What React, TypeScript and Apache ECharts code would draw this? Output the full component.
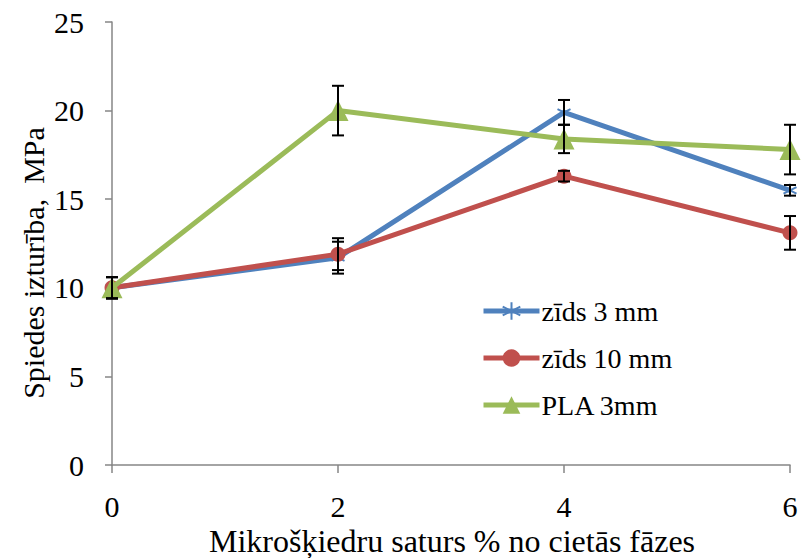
import React, { useEffect, useRef } from "react";
import * as echarts from "echarts";

const xValues = [0, 2, 4, 6];
const seriesNames = ["zīds 3 mm", "zīds 10 mm", "PLA 3mm"];
const zids3 = [10.0, 11.7, 19.9, 15.5];
const zids3Err = [0.6, 0.9, 0.7, 0.3];
const zids10 = [10.0, 11.9, 16.3, 13.1];
const zids10Err = [0.6, 0.9, 0.3, 0.95];
const pla3 = [10.0, 20.0, 18.4, 17.8];
const pla3Err = [0.6, 1.4, 0.8, 1.4];
const colors = ["#4F81BD", "#C0504D", "#9BBB59"];

const FONT = "'Liberation Serif', 'Times New Roman', serif";

export default function App() {
  const ref = useRef<HTMLDivElement>(null);
  useEffect(() => {
    document.body.style.margin = "0";
    const chart = echarts.init(ref.current!, null, { renderer: "svg" });
    const values = [zids3, zids10, pla3];
    const errs = [zids3Err, zids10Err, pla3Err];
    const errData: number[][] = [];
    values.forEach((v, si) => {
      v.forEach((y, i) => {
        errData.push([xValues[i], y - errs[si][i], y + errs[si][i]]);
      });
    });
    const symbols = [
      "path://M0,-10L0,10M-8.66,-5L8.66,5M-8.66,5L8.66,-5",
      "circle",
      "triangle",
    ];
    const sizes = [13, 15, 21];
    chart.setOption({
      animation: false,
      grid: { left: 112, right: 13, top: 22, bottom: 93 },
      legend: {
        orient: "vertical",
        left: 476,
        top: 292,
        itemWidth: 56,
        itemHeight: 22,
        itemGap: 19,
        data: seriesNames,
        lineStyle: { width: 5 },
        textStyle: { fontFamily: FONT, fontSize: 28, color: "#000", padding: [0, 0, 0, -3] },
      },
      xAxis: {
        type: "value",
        min: 0,
        max: 6,
        interval: 2,
        splitLine: { show: false },
        axisLine: { lineStyle: { color: "#868686", width: 1.5 } },
        axisTick: { show: true, length: 8, lineStyle: { color: "#868686", width: 1.5 } },
        axisLabel: { fontFamily: FONT, fontSize: 30, color: "#000", margin: 26 },
      },
      yAxis: {
        type: "value",
        min: 0,
        max: 25,
        interval: 5,
        splitLine: { show: false },
        axisLine: { show: true, lineStyle: { color: "#868686", width: 1.5 } },
        axisTick: { show: true, length: 7, lineStyle: { color: "#868686", width: 1.5 } },
        axisLabel: { fontFamily: FONT, fontSize: 30, color: "#000", margin: 28 },
      },
      graphic: [
        {
          type: "text",
          x: 33,
          y: 263,
          rotation: Math.PI / 2,
          style: {
            text: "Spiedes izturība,  MPa",
            font: `30px ${FONT}`,
            fill: "#000",
            align: "center",
            verticalAlign: "middle",
          },
        },
        {
          type: "text",
          x: 452,
          y: 541,
          style: {
            text: "Mikrošķiedru saturs % no cietās fāzes",
            font: `32px ${FONT}`,
            fill: "#000",
            align: "center",
            verticalAlign: "middle",
          },
        },
      ],
      series: [
        ...values.map((v, si) => ({
          name: seriesNames[si],
          type: "line",
          data: v.map((y, i) => [xValues[i], y]),
          symbol: symbols[si],
          symbolSize: sizes[si],
          showSymbol: true,
          z: 3 + si,
          lineStyle: { color: colors[si], width: 5 },
          itemStyle: si === 0
            ? { color: colors[si], borderColor: colors[si], borderWidth: 2 }
            : { color: colors[si] },
        })),
        {
          type: "custom",
          z: 10,
          silent: true,
          data: errData,
          renderItem: (params: any, api: any) => {
            const x = api.value(0);
            const lo = api.coord([x, api.value(1)]);
            const hi = api.coord([x, api.value(2)]);
            const hw = 6;
            const style = { stroke: "#000", lineWidth: 2 };
            return {
              type: "group",
              children: [
                { type: "line", shape: { x1: lo[0], y1: lo[1], x2: hi[0], y2: hi[1] }, style },
                { type: "line", shape: { x1: lo[0] - hw, y1: lo[1], x2: lo[0] + hw, y2: lo[1] }, style },
                { type: "line", shape: { x1: hi[0] - hw, y1: hi[1], x2: hi[0] + hw, y2: hi[1] }, style },
              ],
            };
          },
        },
      ],
    });
    return () => chart.dispose();
  }, []);
  return <div ref={ref} style={{ width: 803, height: 558 }} />;
}
